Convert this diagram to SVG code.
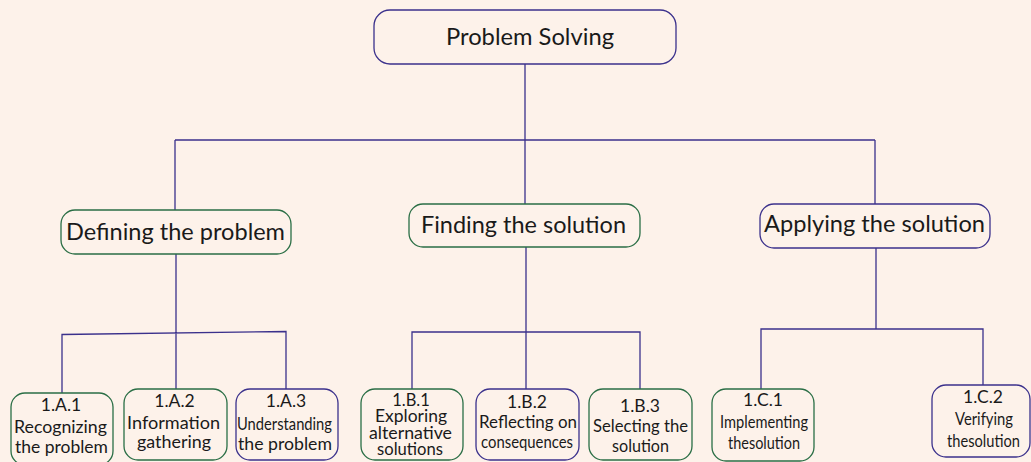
<svg xmlns="http://www.w3.org/2000/svg" width="1031" height="462" viewBox="0 0 1031 462">
<style>
.bg{fill:#fdf2ea}
.g{fill:#fdf2ea;stroke:#2a6e45;stroke-width:1.3}
.b{fill:#fdf2ea;stroke:#3b318c;stroke-width:1.3}
.c{fill:none;stroke:#3b318c;stroke-width:1.3}
text{font-family:Lato,"Liberation Sans",sans-serif;fill:#1a1a1a;text-anchor:middle}
.L{font-size:23.5px}
.s{font-size:17.5px}
.t{font-size:16.5px}
</style>
<rect class="bg" x="0" y="0" width="1031" height="462"/>
<g id="connectors">
<path class="c" d="M525 64V140M175 140H875M175 140V210M525 140V204M875 140V204"/>
<path class="c" d="M176 254V389M62 393V334.5L286 331.5V389"/>
<path class="c" d="M526 247V389M412 389V332H640V389"/>
<path class="c" d="M876 248V329M761 389V329H983V385"/>
</g>
<g id="n-root"><rect class="b" x="374" y="10" width="302" height="54" rx="16"/><text class="L" x="530" y="45" textLength="168" lengthAdjust="spacingAndGlyphs">Problem Solving</text></g>
<g id="n-define"><rect class="g" x="61" y="210" width="230" height="44" rx="14"/><text class="L" x="175.5" y="240" textLength="219" lengthAdjust="spacingAndGlyphs">Defining the problem</text></g>
<g id="n-find"><rect class="g" x="409" y="204" width="231" height="43" rx="14"/><text class="L" x="523.5" y="233" textLength="205" lengthAdjust="spacingAndGlyphs">Finding the solution</text></g>
<g id="n-apply"><rect class="b" x="760" y="204" width="230" height="44" rx="14"/><text class="L" x="874.5" y="232" textLength="221" lengthAdjust="spacingAndGlyphs">Applying the solution</text></g>
<g id="n-1A1"><rect class="g" x="11" y="393" width="102" height="72" rx="14"/><text class="s" x="61" y="411">1.A.1</text><text class="s" x="60.5" y="433" textLength="93" lengthAdjust="spacingAndGlyphs">Recognizing</text><text class="s" x="61.5" y="453" textLength="93" lengthAdjust="spacingAndGlyphs">the problem</text></g>
<g id="n-1A2"><rect class="g" x="124" y="389" width="103" height="71" rx="14"/><text class="s" x="174.5" y="407">1.A.2</text><text class="s" x="173.5" y="429" textLength="93" lengthAdjust="spacingAndGlyphs">Information</text><text class="s" x="174" y="448" textLength="74" lengthAdjust="spacingAndGlyphs">gathering</text></g>
<g id="n-1A3"><rect class="b" x="236" y="389" width="102" height="71" rx="14"/><text class="s" x="286" y="407">1.A.3</text><text class="s" x="284.5" y="430" textLength="95" lengthAdjust="spacingAndGlyphs">Understanding</text><text class="s" x="285" y="450" textLength="94" lengthAdjust="spacingAndGlyphs">the problem</text></g>
<g id="n-1B1"><rect class="g" x="361" y="389" width="102" height="71" rx="14"/><text class="t" x="411" y="406">1.B.1</text><text class="t" x="411" y="422" textLength="72" lengthAdjust="spacingAndGlyphs">Exploring</text><text class="t" x="410.5" y="439" textLength="83" lengthAdjust="spacingAndGlyphs">alternative</text><text class="t" x="410" y="455" textLength="66" lengthAdjust="spacingAndGlyphs">solutions</text></g>
<g id="n-1B2"><rect class="b" x="476" y="389" width="103" height="71" rx="14"/><text class="s" x="527" y="408">1.B.2</text><text class="s" x="528" y="428" textLength="98" lengthAdjust="spacingAndGlyphs">Reflecting on</text><text class="s" x="527" y="448" textLength="92" lengthAdjust="spacingAndGlyphs">consequences</text></g>
<g id="n-1B3"><rect class="g" x="589" y="389" width="103" height="71" rx="14"/><text class="s" x="640" y="412">1.B.3</text><text class="s" x="640.5" y="432" textLength="95" lengthAdjust="spacingAndGlyphs">Selecting the</text><text class="s" x="640.5" y="452" textLength="57" lengthAdjust="spacingAndGlyphs">solution</text></g>
<g id="n-1C1"><rect class="g" x="712" y="389" width="102" height="72" rx="14"/><text class="s" x="763" y="406">1.C.1</text><text class="s" x="764" y="428" textLength="88" lengthAdjust="spacingAndGlyphs">Implementing</text><text class="s" x="764" y="449" textLength="72" lengthAdjust="spacingAndGlyphs">thesolution</text></g>
<g id="n-1C2"><rect class="b" x="932" y="385" width="98" height="72" rx="14"/><text class="s" x="983" y="403">1.C.2</text><text class="s" x="984" y="425" textLength="58" lengthAdjust="spacingAndGlyphs">Verifying</text><text class="s" x="983.5" y="447" textLength="73" lengthAdjust="spacingAndGlyphs">thesolution</text></g>
</svg>
